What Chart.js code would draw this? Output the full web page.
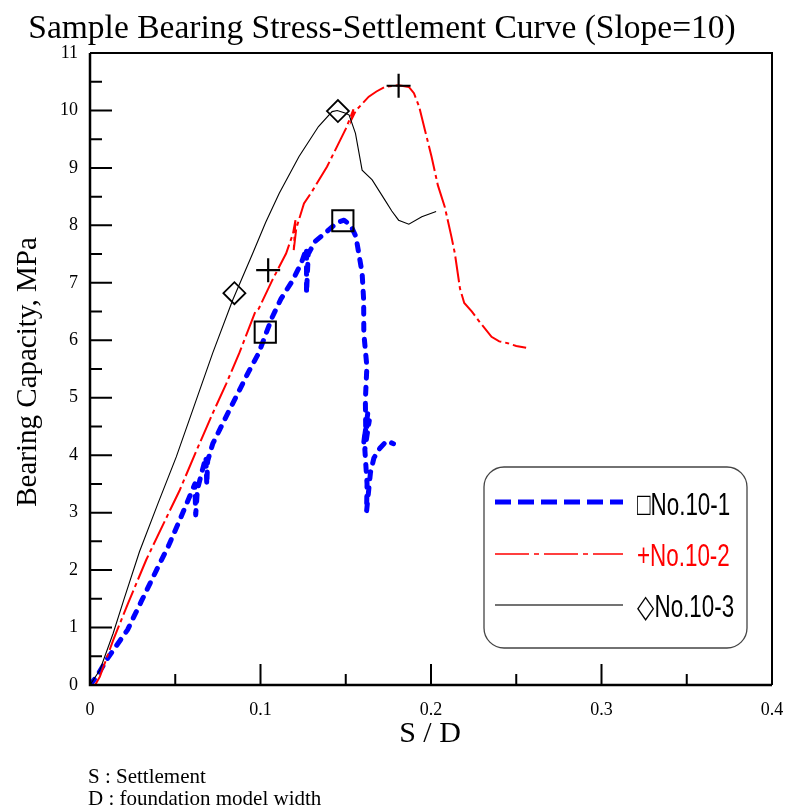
<!DOCTYPE html>
<html>
<head>
<meta charset="utf-8">
<script src="https://cdn.jsdelivr.net/npm/chart.js@4.4.1/dist/chart.umd.min.js"></script>
<style>
html,body{margin:0;padding:0;background:#fff;}
#wrap{width:789px;height:807px;position:relative;}
</style>
</head>
<body>
<div id="wrap"><canvas id="c" width="789" height="807"></canvas></div>
<script>
// ---- data ----
const x1 = [0,0.004,0.010,0.022,0.030,0.039,0.046,0.0526,0.058,0.0615,0.062,0.063,0.066,0.068,0.0685,0.069,0.072,0.076,0.082,0.0876,0.093,0.099,0.103,0.107,0.112,0.119,0.124,0.127,0.127,0.128,0.132,0.140,0.145,0.149,0.153,0.156,0.158,0.1596,0.1605,0.1606,0.1624,0.1615,0.1617,0.1605,0.163,0.162,0.1638,0.1612,0.1625,0.1622,0.1645,0.1665,0.170,0.174,0.178];
const y1 = [0,0.15,0.45,0.96,1.45,2.0,2.42,2.87,3.25,3.5,2.96,3.4,3.75,3.97,3.48,3.9,4.2,4.44,4.8,5.13,5.45,5.78,6.1,6.41,6.72,7.05,7.35,7.6,6.82,7.5,7.72,7.92,8.05,8.09,8.0,7.8,7.45,7.17,6.7,6.12,5.54,4.96,4.5,4.2,4.75,4.3,4.6,4.1,3.5,3.02,3.7,3.95,4.12,4.25,4.2];

const x2 = [0.003,0.0058,0.0136,0.022,0.033,0.043,0.0526,0.062,0.072,0.080,0.0876,0.097,0.099,0.107,0.115,0.119,0.1205,0.1195,0.121,0.1255,0.130,0.139,0.145,0.150,0.153,0.1545,0.1535,0.156,0.1635,0.168,0.173,0.181,0.187,0.190,0.193,0.1965,0.2003,0.204,0.208,0.212,0.214,0.217,0.2195,0.224,0.2277,0.2355,0.240,0.245,0.250,0.2558];
const y2 = [0,0.145,0.78,1.4,2.18,2.8,3.39,4.05,4.73,5.25,5.78,6.5,6.55,7.05,7.51,7.85,8.09,7.57,7.95,8.38,8.58,9.02,9.38,9.68,9.9,10.02,9.85,10.0,10.24,10.33,10.41,10.44,10.41,10.3,10.07,9.65,9.2,8.7,8.33,7.8,7.51,6.9,6.65,6.5,6.35,6.06,5.98,5.95,5.9,5.87];

const x3 = [0,0.0058,0.0136,0.020,0.029,0.040,0.0506,0.061,0.072,0.0837,0.0954,0.103,0.111,0.1226,0.134,0.142,0.145,0.150,0.152,0.1557,0.1596,0.1655,0.173,0.177,0.181,0.187,0.1946,0.203];
const y3 = [0,0.26,0.9,1.5,2.32,3.17,3.97,4.85,5.78,6.7,7.51,8.05,8.56,9.2,9.72,9.98,10.0,9.95,9.92,9.6,8.96,8.79,8.44,8.25,8.09,8.02,8.15,8.24];

// markers
const m1x = [0.1028,0.1483], m1y = [6.14,8.08];
const m2x = [0.1045,0.181],  m2y = [7.22,10.43];
const m3x = [0.0847,0.1454], m3y = [6.82,9.99];

// axes ticks
const xTickVals = [0,0.1,0.2,0.3,0.4];
const xMinorVals = [0.05,0.15,0.25,0.35];
const yTickVals = [0,1,2,3,4,5,6,7,8,9,10,11];
const yMinorVals = [0.5,1.5,2.5,3.5,4.5,5.5,6.5,7.5,8.5,9.5,10.5];

const seriesNames = ['No.10-1','No.10-2','No.10-3'];
const titleText = 'Sample Bearing Stress-Settlement Curve (Slope=10)';
const xTitle = 'S / D';
const yTitle = 'Bearing Capacity, MPa';
const notes = ['S : Settlement','D : foundation model width'];

const pts = (xs,ys)=>xs.map((v,i)=>({x:v,y:ys[i]}));
const SERIF = "'Liberation Serif','Times New Roman',serif";
const SANS = "'Liberation Sans',Arial,sans-serif";

const decor = {
  id:'decor',
  afterDraw(chart){
    const ctx = chart.ctx, a = chart.chartArea;
    const xs = chart.scales.x, ys = chart.scales.y;
    ctx.save();
    // frame
    ctx.strokeStyle='#000';
    ctx.lineWidth=2;
    ctx.beginPath();
    ctx.moveTo(a.left,a.top); ctx.lineTo(a.right,a.top); ctx.lineTo(a.right,a.bottom);
    ctx.stroke();
    ctx.lineWidth=2.5;
    ctx.beginPath();
    ctx.moveTo(a.left,a.top); ctx.lineTo(a.left,a.bottom); ctx.lineTo(a.right,a.bottom);
    ctx.stroke();
    // ticks
    ctx.lineWidth=2;
    ctx.beginPath();
    yTickVals.forEach(v=>{const p=ys.getPixelForValue(v); ctx.moveTo(a.left,p); ctx.lineTo(a.left+22,p);});
    yMinorVals.forEach(v=>{const p=ys.getPixelForValue(v); ctx.moveTo(a.left,p); ctx.lineTo(a.left+12,p);});
    xTickVals.forEach(v=>{const p=xs.getPixelForValue(v); ctx.moveTo(p,a.bottom); ctx.lineTo(p,a.bottom-21);});
    xMinorVals.forEach(v=>{const p=xs.getPixelForValue(v); ctx.moveTo(p,a.bottom); ctx.lineTo(p,a.bottom-11);});
    ctx.stroke();

    // titles
    ctx.fillStyle='#000';
    ctx.textAlign='center'; ctx.textBaseline='alphabetic';
    ctx.font='33.5px '+SERIF;
    ctx.fillText(titleText, 382, 38);
    ctx.font='30px '+SERIF;
    ctx.fillText(xTitle, 430, 742);
    ctx.save();
    ctx.translate(36,372); ctx.rotate(-Math.PI/2);
    ctx.font='29px '+SERIF;
    ctx.fillText(yTitle,0,0);
    ctx.restore();
    ctx.textAlign='left';
    ctx.font='21px '+SERIF;
    ctx.fillText(notes[0], 88, 783);
    ctx.fillText(notes[1], 88, 805);

    // legend
    const L=484,T=467,R=747,B=648,r=20;
    ctx.strokeStyle='#444'; ctx.lineWidth=1.3;
    ctx.beginPath();
    ctx.moveTo(L+r,T); ctx.lineTo(R-r,T); ctx.arcTo(R,T,R,T+r,r);
    ctx.lineTo(R,B-r); ctx.arcTo(R,B,R-r,B,r);
    ctx.lineTo(L+r,B); ctx.arcTo(L,B,L,B-r,r);
    ctx.lineTo(L,T+r); ctx.arcTo(L,T,L+r,T,r);
    ctx.closePath(); ctx.stroke();
    const rows=[
      {y:502, ty:515, color:'#0000ff', w:5, dash:[16,7], sym:'\u25A1', tc:'#000'},
      {y:554, ty:566, color:'#ff0000', w:1.6, dash:[34,5,5,5], sym:'+', tc:'#ff0000'},
      {y:605, ty:617, color:'#444', w:1.4, dash:[], sym:'\u25C7', tc:'#000'}
    ];
    rows.forEach((rw,i)=>{
      ctx.save();
      ctx.strokeStyle=rw.color; ctx.lineWidth=rw.w; ctx.setLineDash(rw.dash);
      ctx.beginPath(); ctx.moveTo(495,rw.y); ctx.lineTo(623,rw.y); ctx.stroke();
      ctx.restore();
      ctx.save();
      ctx.translate(637,rw.ty); ctx.scale(0.7,1);
      ctx.fillStyle=rw.tc; ctx.font='32px '+SANS; ctx.textAlign='left';
      ctx.fillText(rw.sym+seriesNames[i],0,0);
      ctx.restore();
    });
    ctx.restore();
  }
};

new Chart(document.getElementById('c'),{
  type:'line',
  data:{datasets:[
    {label:seriesNames[0],data:pts(x1,y1),borderColor:'#0000ff',borderWidth:5,borderDash:[7,9],borderCapStyle:'round',borderJoinStyle:'round',pointRadius:0,tension:0,order:3},
    {label:seriesNames[1],data:pts(x2,y2),borderColor:'#ff0000',borderWidth:2,borderDash:[26,4,4,4],pointRadius:0,tension:0,order:2},
    {label:seriesNames[2],data:pts(x3,y3),borderColor:'#000',borderWidth:1.1,pointRadius:0,tension:0,order:1},
    {label:'m1',data:pts(m1x,m1y),showLine:false,pointStyle:'rect',pointRadius:15,pointBorderColor:'#000',pointBackgroundColor:'rgba(0,0,0,0)',pointBorderWidth:2,order:0},
    {label:'m2',data:pts(m2x,m2y),showLine:false,pointStyle:'cross',pointRadius:12,pointBorderColor:'#000',pointBorderWidth:2.2,order:0},
    {label:'m3',data:pts(m3x,m3y),showLine:false,pointStyle:'rectRot',pointRadius:11,pointBorderColor:'#000',pointBackgroundColor:'rgba(0,0,0,0)',pointBorderWidth:1.8,order:0}
  ]},
  options:{
    responsive:false,animation:false,
    layout:{padding:{top:53,right:14,left:0,bottom:0}},
    plugins:{legend:{display:false},title:{display:false},tooltip:{enabled:false}},
    scales:{
      x:{type:'linear',min:0,max:0.4,
        grid:{display:false,drawTicks:false},border:{display:false},
        afterBuildTicks:s=>{s.ticks=xTickVals.map(v=>({value:v}));},
        afterFit:s=>{s.height=122; s.paddingLeft=0; s.paddingRight=0;},
        ticks:{padding:14,color:'#000',font:{family:SERIF,size:18},maxRotation:0,autoSkip:false,
          callback:v=>v===0?'0':(+v).toFixed(1)}},
      y:{type:'linear',min:0,max:11,
        grid:{display:false,drawTicks:false},border:{display:false},
        afterBuildTicks:s=>{s.ticks=yTickVals.map(v=>({value:v}));},
        afterFit:s=>{s.width=90; s.paddingTop=0; s.paddingBottom=0;},
        ticks:{padding:12,color:'#000',font:{family:SERIF,size:18},autoSkip:false,
          callback:v=>String(v)}}
    }
  },
  plugins:[decor]
});
</script>
</body>
</html>
